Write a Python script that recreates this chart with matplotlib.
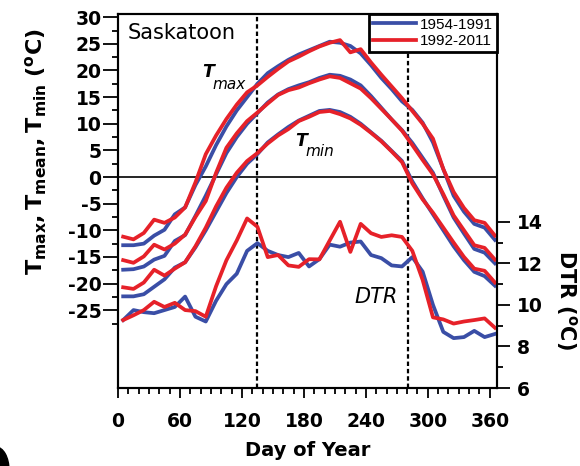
import matplotlib
matplotlib.use("Agg")
import matplotlib.pyplot as plt
from matplotlib.ticker import FixedLocator
from matplotlib.patches import Ellipse

plt.rcParams['font.family'] = ['DejaVu Sans']
plt.rcParams['mathtext.fontset'] = 'dejavusans'
plt.rcParams['axes.unicode_minus'] = False

# 10-day climatology, Saskatoon
days = [5, 15, 25, 35, 45, 55, 65, 75, 85, 95, 105, 115, 125, 135, 145, 155, 165, 175, 185,
        195, 205, 215, 225, 235, 245, 255, 265, 275, 285, 295, 305, 315, 325, 335, 345, 355, 365]

tmax_1954_1991 = [-12.8, -12.8, -12.5, -11.0, -9.9, -7.0, -5.7, -1.5, 2.0, 6.0, 9.5, 12.5, 15.0,
                  17.5, 19.5, 20.8, 22.0, 23.0, 23.8, 24.6, 25.4, 25.2, 24.6, 23.2, 21.0, 18.6,
                  16.5, 14.2, 12.6, 10.2, 6.5, 1.5, -3.5, -6.5, -8.8, -9.5, -11.8]
tmax_1992_2011 = [-11.2, -11.7, -10.5, -8.0, -8.6, -7.6, -5.7, -1.0, 4.3, 7.8, 10.9, 13.6, 15.9,
                  17.2, 18.8, 20.3, 21.7, 22.6, 23.6, 24.5, 25.2, 25.7, 23.4, 24.0, 21.5, 19.2,
                  17.0, 14.8, 12.4, 10.0, 7.2, 1.5, -2.8, -5.8, -8.1, -8.6, -11.0]

tmean_1954_1991 = [-17.4, -17.3, -16.8, -15.5, -14.8, -12.0, -10.9, -7.3, -3.5, 0.5, 4.5, 7.5,
                   10.0, 12.0, 14.0, 15.5, 16.5, 17.2, 17.8, 18.6, 19.2, 19.0, 18.3, 17.2, 15.2,
                   13.0, 10.8, 8.8, 6.4, 3.6, 0.8, -3.5, -7.6, -10.6, -13.5, -14.2, -16.2]
tmean_1992_2011 = [-15.6, -16.1, -14.9, -12.7, -13.6, -12.5, -10.8, -7.5, -4.5, 0.8, 5.5, 8.2,
                   10.5, 12.1, 13.8, 15.4, 16.3, 16.8, 17.6, 18.3, 18.9, 18.6, 17.6, 16.6, 14.8,
                   12.8, 10.8, 8.7, 6.0, 3.2, 0.5, -3.2, -7.2, -10.0, -12.8, -13.3, -15.5]

tmin_1954_1991 = [-22.4, -22.4, -22.0, -20.6, -19.2, -17.0, -16.0, -13.2, -10.0, -6.5, -3.0, 0.0,
                  2.5, 4.3, 6.5, 8.0, 9.4, 10.6, 11.5, 12.4, 12.6, 12.2, 11.3, 10.0, 8.4, 6.8,
                  4.9, 3.0, -0.8, -4.0, -7.0, -10.0, -13.0, -15.6, -17.8, -18.6, -20.4]
tmin_1992_2011 = [-20.7, -21.0, -19.8, -17.4, -18.5, -17.2, -16.0, -13.0, -9.5, -5.5, -2.0, 0.8,
                  3.0, 4.5, 6.3, 7.8, 9.0, 10.5, 11.3, 12.2, 12.4, 11.8, 11.0, 9.8, 8.3, 6.7,
                  4.8, 2.8, -1.2, -4.2, -6.7, -9.5, -12.3, -15.0, -17.2, -17.6, -19.8]

dtr_1954_1991 = [9.27, 9.75, 9.65, 9.6, 9.75, 9.9, 10.4, 9.43, 9.2, 10.2, 11.0, 11.5, 12.6,
                 12.97, 12.6, 12.4, 12.3, 12.5, 11.85, 12.2, 12.9, 12.8, 13.0, 13.05, 12.4,
                 12.25, 11.9, 11.85, 12.3, 11.6, 10.0, 8.7, 8.4, 8.45, 8.75, 8.45, 8.6]
dtr_1992_2011 = [9.27, 9.5, 9.75, 10.15, 9.9, 10.1, 9.75, 9.7, 9.43, 10.9, 12.15, 13.1, 14.16,
                 13.76, 12.3, 12.4, 11.9, 11.83, 12.2, 12.19, 13.1, 14.0, 12.55, 13.9, 13.45,
                 13.27, 13.35, 13.27, 12.6, 11.2, 9.4, 9.3, 9.1, 9.2, 9.27, 9.35, 8.9]

period_labels = ['1954-1991', '1992-2011']
marker_days = [135, 281]

blue = '#3a4ea6'
red = '#e62129'
lw = 2.7

fig = plt.figure(figsize=(5.8, 4.66), dpi=100)
ax = fig.add_axes([118 / 580, 78 / 466, 379 / 580, 374 / 466])
ax2 = ax.twinx()

for series in (tmax_1954_1991, tmean_1954_1991, tmin_1954_1991):
    ax.plot(days, series, color=blue, lw=lw, solid_joinstyle='round', zorder=3)
for series in (tmax_1992_2011, tmean_1992_2011, tmin_1992_2011):
    ax.plot(days, series, color=red, lw=lw, solid_joinstyle='round', zorder=4)

hb, = ax2.plot(days, dtr_1954_1991, color=blue, lw=lw, solid_joinstyle='round')
hr, = ax2.plot(days, dtr_1992_2011, color=red, lw=lw, solid_joinstyle='round')

ax.axhline(0, color='k', lw=1.2, zorder=2)
for d in marker_days:
    ax.axvline(d, color='k', lw=1.6, ls=(0, (2.0, 1.3)), zorder=2)

ax.set_xlim(0, 367)
ax.set_ylim(-39.6, 30.6)
ax2.set_ylim(6, 24)

ax.xaxis.set_major_locator(FixedLocator([0, 60, 120, 180, 240, 300, 360]))
ax.xaxis.set_minor_locator(FixedLocator(list(range(0, 367, 10))))
ax.yaxis.set_major_locator(FixedLocator(list(range(-25, 31, 5))))
ax.yaxis.set_minor_locator(FixedLocator([v + 2.5 for v in range(-30, 30, 5)]))
ax2.yaxis.set_major_locator(FixedLocator([6, 8, 10, 12, 14]))
ax2.yaxis.set_minor_locator(FixedLocator([7, 9, 11, 13]))

ax.tick_params(axis='x', which='major', direction='out', length=7, width=1.3, pad=10,
               labelsize=13.5)
ax.tick_params(axis='x', which='minor', direction='out', length=4, width=1.3)
ax.tick_params(axis='y', which='major', direction='out', length=11, width=1.3, pad=1,
               labelsize=13.5)
ax.tick_params(axis='y', which='minor', direction='out', length=4, width=1.3)
ax2.tick_params(axis='y', which='major', direction='out', length=9, width=1.3, pad=5,
                labelsize=13.5)
ax2.tick_params(axis='y', which='minor', direction='out', length=4, width=1.3)
for lab in ax.get_xticklabels() + ax.get_yticklabels() + ax2.get_yticklabels():
    lab.set_fontweight('bold')

for a in (ax, ax2):
    for sp in a.spines.values():
        sp.set_linewidth(1.5)

leg = ax2.legend([hb, hr], period_labels, loc='upper right', borderaxespad=0,
                 fancybox=False, framealpha=1, edgecolor='k',
                 prop={'family': 'Liberation Sans', 'size': 11},
                 handlelength=2.8, handletextpad=0.3, borderpad=0.25, labelspacing=0.15)
leg.get_frame().set_linewidth(2)

ax.text(0.026, 0.975, 'Saskatoon', transform=ax.transAxes, ha='left', va='top', fontsize=15)

ax.text(81.5, 18.7, 'T', fontsize=12.5, fontstyle='italic', fontweight='bold', ha='left',
        va='baseline')
ax.text(91.3, 16.6, 'max', fontsize=11, fontstyle='italic', ha='left', va='baseline')
ax.text(172, 5.8, 'T', fontsize=12.5, fontstyle='italic', fontweight='bold', ha='left',
        va='baseline')
ax.text(181.5, 3.9, 'min', fontsize=11, fontstyle='italic', ha='left', va='baseline')
ax.text(229, -23.6, 'DTR', fontsize=15, fontstyle='italic', ha='left', va='baseline')

fig.text(36 / 580, 1 - 152 / 466,
         r'$\mathbf{T_{max}, T_{mean}, T_{min}\ (^{o}C)}$',
         rotation=90, ha='center', va='center', fontsize=16)
fig.text(567 / 580, 1 - 300 / 466, r'$\mathbf{DTR\ (^{o}C)}$',
         rotation=270, ha='center', va='center', fontsize=15)
fig.text(308 / 580, 1 - 450 / 466, 'Day of Year', ha='center', va='center', fontsize=14,
         fontweight='bold')

fig.patches.append(Ellipse((-4 / 580, -4 / 466), 26 / 580, 46 / 466, color='k',
                           transform=fig.transFigure, figure=fig))

fig.savefig('out.png', dpi=100)
